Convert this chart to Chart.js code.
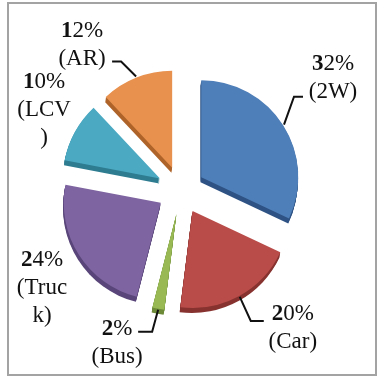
<!DOCTYPE html>
<html>
<head>
<meta charset="utf-8">
<title>Vehicle share</title>
<script src="https://cdn.jsdelivr.net/npm/chart.js@4/dist/chart.umd.min.js"></script>
<style>
  html, body { margin: 0; padding: 0; background: #ffffff; }
  canvas { display: block; }
</style>
</head>
<body>
<canvas id="pie" width="382" height="377"></canvas>
<script>
// Share of each vehicle segment, clockwise from 12 o'clock
const categories = ['2W', 'Car', 'Bus', 'Truck', 'LCV', 'AR'];
const shares = [32, 20, 2, 24, 10, 12];

// Slice fill and the darker tone used for the extruded side
const fillColors = ['#4F7FB8', '#B94C49', '#98B954', '#7E64A0', '#4BA9C2', '#E8914E'];
const sideColors = ['#2E5283', '#87322F', '#6C8A38', '#594579', '#2D7C90', '#AE6329'];

// Label placement relative to the slice's outer mid-point:
// leader = [elbow, end] offsets (or null), text = centre of the first line
const labelLayout = [
  { leader: [[10, -28], [19, -28]], text: [49, -61] },
  { leader: [[11, 24], [24, 24]],  text: [53, 17] },
  { leader: [[-6, 22], [-20, 22]], text: [-41, 19] },
  { leader: null,                   text: [-36, 5] },
  { leader: null,                   text: [-30, -49] },
  { leader: [[-15, -15], [-24, -15]], text: [-54, -46] }
];

const EXPLODE = 24;      // distance each slice is pulled out from the centre
const DEPTH = 5;         // thickness of the extruded side
const FONT = '"Liberation Serif", "Times New Roman", serif';
const FONT_SIZE = 23;
const LINE_H = 28;
const WRAP_W = 56;

function arcPath(ctx, arc, cx, cy) {
  ctx.beginPath();
  ctx.moveTo(cx, cy);
  ctx.arc(cx, cy, arc.outerRadius, arc.startAngle, arc.endAngle);
  ctx.closePath();
}

// Pull slices apart and give them a 3-D side face
const explodePlugin = {
  id: 'explode3d',
  beforeDatasetDraw(chart, args) {
    const ctx = chart.ctx;
    const arcs = args.meta.data;
    arcs.forEach((arc, i) => {
      const mid = (arc.startAngle + arc.endAngle) / 2;
      const ox = Math.cos(mid) * EXPLODE, oy = Math.sin(mid) * EXPLODE;
      ctx.save();
      ctx.fillStyle = sideColors[i];
      for (let k = 1; k <= DEPTH; k++) {
        arcPath(ctx, arc, arc.x + ox - k * 0.15, arc.y + oy + k);
        ctx.fill();
      }
      ctx.restore();
    });
    arcs.forEach((arc) => {
      const mid = (arc.startAngle + arc.endAngle) / 2;
      ctx.save();
      ctx.translate(Math.cos(mid) * EXPLODE, Math.sin(mid) * EXPLODE);
      arc.draw(ctx);
      ctx.restore();
    });
    return false;
  }
};

// Break a string into lines no wider than maxW, character by character
function wrapChars(ctx, text, maxW) {
  const lines = [];
  let cur = '';
  for (const ch of text) {
    if (cur && ctx.measureText(cur + ch).width > maxW) {
      lines.push(cur);
      cur = ch;
    } else {
      cur += ch;
    }
  }
  if (cur) lines.push(cur);
  return lines;
}

// Percentage + category labels with elbow leader lines
const labelPlugin = {
  id: 'sliceLabels',
  afterDatasetsDraw(chart) {
    const ctx = chart.ctx;
    const arcs = chart.getDatasetMeta(0).data;
    const values = chart.data.datasets[0].data;
    ctx.save();
    arcs.forEach((arc, i) => {
      const mid = (arc.startAngle + arc.endAngle) / 2;
      const r = arc.outerRadius + 1 + EXPLODE;
      const sx = arc.x + Math.cos(mid) * r;
      const sy = arc.y + Math.sin(mid) * r;
      const lay = labelLayout[i];

      if (lay.leader) {
        ctx.strokeStyle = '#111111';
        ctx.lineWidth = 2;
        ctx.lineJoin = 'miter';
        ctx.beginPath();
        ctx.moveTo(sx, sy);
        lay.leader.forEach(([dx, dy]) => ctx.lineTo(sx + dx, sy + dy));
        ctx.stroke();
      }

      const tx = sx + lay.text[0];
      let ty = sy + lay.text[1];
      ctx.fillStyle = '#111111';
      ctx.textBaseline = 'middle';
      ctx.textAlign = 'left';

      // first line: value, leading digit set in bold
      const pct = values[i] + '%';
      const head = pct.charAt(0), tail = pct.slice(1);
      ctx.font = 'bold ' + FONT_SIZE + 'px ' + FONT;
      const wHead = ctx.measureText(head).width;
      ctx.font = FONT_SIZE + 'px ' + FONT;
      const wTail = ctx.measureText(tail).width;
      const x0 = tx - (wHead + wTail) / 2;
      ctx.font = 'bold ' + FONT_SIZE + 'px ' + FONT;
      ctx.fillText(head, x0, ty);
      ctx.font = FONT_SIZE + 'px ' + FONT;
      ctx.fillText(tail, x0 + wHead, ty);

      // following lines: category name in brackets, wrapped
      ctx.textAlign = 'center';
      const lines = wrapChars(ctx, '(' + chart.data.labels[i] + ')', WRAP_W);
      lines.forEach((ln) => {
        ty += LINE_H;
        ctx.fillText(ln, tx, ty);
      });
    });
    ctx.restore();
  }
};

// Grey frame around the figure
const framePlugin = {
  id: 'frame',
  afterDraw(chart) {
    const ctx = chart.ctx;
    ctx.save();
    ctx.strokeStyle = '#A3A3A3';
    ctx.lineWidth = 2;
    ctx.strokeRect(8, 3, 368, 372);
    ctx.restore();
  }
};

new Chart(document.getElementById('pie'), {
  type: 'pie',
  data: {
    labels: categories,
    datasets: [{
      data: shares,
      backgroundColor: fillColors,
      borderWidth: 0
    }]
  },
  options: {
    responsive: false,
    animation: false,
    devicePixelRatio: 1,
    radius: 97,
    layout: { padding: { left: 0, right: 20, top: 3, bottom: 0 } },
    plugins: {
      legend: { display: false },
      tooltip: { enabled: false }
    }
  },
  plugins: [explodePlugin, labelPlugin, framePlugin]
});
</script>
</body>
</html>
